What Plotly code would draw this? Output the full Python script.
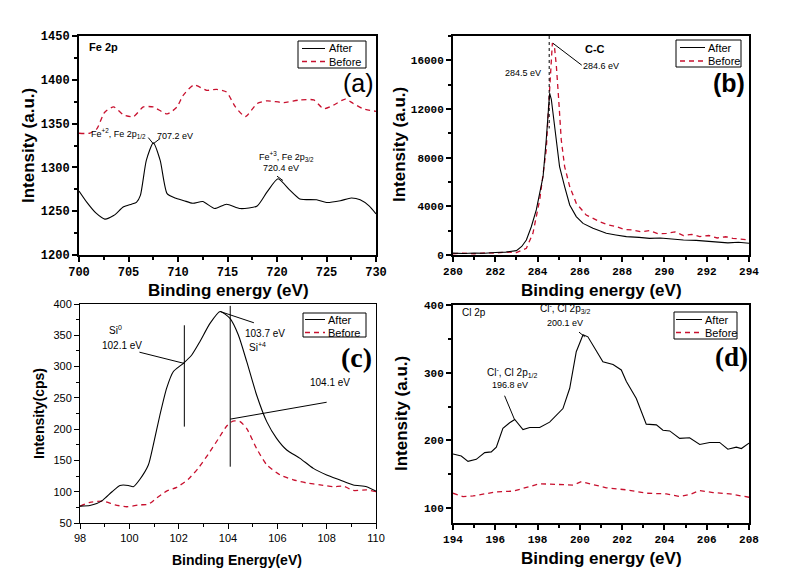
import plotly.graph_objects as go

# ---------------- data ----------------
# (a) Fe 2p
a_after_x = [700.0, 700.8, 701.7, 702.6, 703.5, 704.5, 705.3, 705.8, 706.2, 706.8, 707.5, 708.2, 708.9, 709.7,
             710.6, 711.5, 712.5, 713.7, 714.9, 716.3, 718.0, 719.0, 720.1, 721.3, 722.3, 724.0, 725.0, 726.4,
             727.5, 728.4, 729.3, 730.0]
a_after_y = [1273, 1260, 1248, 1241, 1245, 1255, 1258, 1260, 1268, 1308, 1328, 1308, 1270, 1265,
             1262, 1259, 1261, 1253, 1258, 1253, 1256, 1272, 1287, 1274, 1264, 1263, 1260, 1262,
             1265, 1263, 1256, 1247]
a_before_x = [700.0, 701.1, 701.8, 702.6, 703.5, 704.5, 705.5, 706.5, 707.5, 708.9, 709.9, 710.5, 711.6, 712.9,
              713.9, 714.9, 715.8, 716.8, 718.0, 719.0, 720.7, 722.3, 723.7, 724.7, 725.7, 726.9, 727.7, 728.7, 730.0]
a_before_y = [1339, 1339, 1344, 1363, 1369, 1360, 1358, 1369, 1369, 1361, 1369, 1382, 1394, 1388,
              1389, 1386, 1369, 1358, 1373, 1376, 1374, 1377, 1377, 1367, 1371, 1378, 1373, 1367, 1364]

# (b) C 1s
b_after_x = [280.0, 280.5, 281.0, 281.5, 282.0, 282.5, 283.0, 283.25, 283.47, 283.7, 283.94, 284.1, 284.26, 284.41,
             284.5, 284.57, 284.65, 284.73, 284.89, 285.04, 285.28, 285.4, 285.52, 285.83, 286.15, 286.62, 287.25,
             287.7, 288.2, 288.8, 289.3, 289.8, 290.4, 290.9, 291.5, 292.0, 292.5, 293.0, 293.5, 294.0]
b_after_y = [150, 120, 170, 140, 200, 240, 360, 700, 1235, 2300, 3700, 5000, 6450, 9470,
             11600, 13300, 12800, 11660, 9470, 7270, 5625, 4800, 4115, 3155, 2600, 2195, 1780,
             1650, 1510, 1450, 1370, 1400, 1300, 1235, 1200, 1150, 1100, 1000, 1050, 960]
b_before_x = [280.0, 280.5, 281.0, 281.5, 282.0, 282.5, 283.0, 283.47, 283.78, 284.1, 284.25, 284.41, 284.5, 284.6,
              284.7, 284.8, 284.89, 285.0, 285.12, 285.28, 285.52, 285.83, 286.3, 286.94, 287.3, 287.72, 288.1,
              288.5, 288.9, 289.3, 289.7, 290.1, 290.5, 290.9, 291.3, 291.67, 292.1, 292.5, 292.9, 293.24, 293.6, 294.0]
b_before_y = [100, 160, 90, 180, 150, 250, 190, 550, 1780, 4530, 6500, 8640, 11500, 15000,
              17420, 17100, 15500, 12760, 9470, 7270, 5625, 4250, 3290, 2740, 2500, 2330, 2100,
              2060, 1900, 2000, 1750, 1780, 1900, 1600, 1700, 1510, 1600, 1400, 1500, 1370, 1300, 1235]

# (c) Si 2p
c_after_x = [98.0, 98.4, 98.68, 98.94, 99.3, 99.62, 99.96, 100.16, 100.43, 100.77, 100.97, 101.24, 101.51, 101.78,
             102.19, 102.53, 102.86, 103.27, 103.68, 104.08, 104.42, 104.76, 105.16, 105.57, 105.97, 106.38,
             106.92, 107.46, 108.0, 108.54, 109.08, 109.62, 110.0]
c_after_y = [77, 78, 81, 87, 100, 110, 110, 108, 120, 142.7, 174.6, 222.6, 265.2, 291.8,
             305.2, 318.5, 339.8, 369, 388, 377, 350.5, 307.8, 254.6, 212, 185.3, 166.7,
             153.3, 137.3, 126.7, 118.7, 110.7, 108, 101]
c_before_x = [98.0, 98.4, 98.94, 99.42, 99.89, 100.43, 100.77, 101.11, 101.51, 101.92, 102.39, 102.8, 103.2, 103.6,
              103.95, 104.2, 104.49, 104.76, 105.16, 105.57, 106.11, 106.65, 107.19, 107.73, 108.27, 108.68,
              109.08, 109.62, 110.0]
c_before_y = [77, 83, 85, 79, 76, 79, 80, 90, 101, 107, 120, 138, 160, 184,
              205, 213, 212, 201, 169, 143, 127, 119, 114, 111, 108, 109, 102, 103, 100]

# (d) Cl 2p
d_after_x = [194.0, 194.39, 194.71, 195.1, 195.5, 195.81, 196.05, 196.36, 196.68, 196.92, 197.31, 197.63, 198.1,
             198.57, 199.2, 199.52, 199.83, 200.15, 200.38, 200.78, 201.09, 201.57, 201.96, 202.2, 202.67, 203.14,
             203.62, 203.93, 204.25, 204.72, 205.19, 205.67, 206.14, 206.61, 207.0, 207.4, 207.64, 208.0]
d_after_y = [180, 177, 169, 172, 182, 183, 190, 218, 226, 231, 216, 219, 219,
             227, 247, 277, 331, 356, 353, 331, 316, 312, 304, 287, 262, 224,
             223, 215, 214, 203, 204, 194, 197, 197, 187, 190, 188, 196]
d_before_x = [194.0, 194.47, 194.95, 195.42, 196.05, 196.84, 197.47, 198.1, 198.89, 199.68, 200.07, 200.62, 201.25,
              202.2, 203.14, 204.09, 204.72, 205.19, 205.67, 206.3, 207.09, 208.0]
d_before_y = [122, 117, 118, 121, 124, 125, 130, 136, 135, 134, 139, 135, 130,
              127, 122, 121, 117, 120, 126, 123, 121, 116]

# ---------------- layout helpers ----------------
W, H = 811, 576
RED = "#c8102e"
SANS = "Liberation Sans"
MONO = "Liberation Mono"
SERIF = "Liberation Serif"

boxes = {  # pixel frames of each panel
    "a": (79, 376, 36, 255),
    "b": (453, 749, 36, 255),
    "c": (80, 376, 304, 523),
    "d": (453, 749, 305, 523),
}


def dom(k):
    L, R, T, B = boxes[k]
    return [L / W, R / W], [1 - B / H, 1 - T / H]


def px(x):
    return x / W


def py(y):
    return 1 - y / H


fig = go.Figure()


def add(x, y, ax, after, shape="linear"):
    fig.add_trace(go.Scatter(
        x=x, y=y, xaxis="x" + ax, yaxis="y" + ax, mode="lines", showlegend=False,
        name="After" if after else "Before",
        line=dict(color="black" if after else RED, width=1.1 if after else 1.3,
                  dash="solid" if after else "5px,4px", shape=shape, smoothing=0.6)))


add(a_before_x, a_before_y, "", False, "spline")
add(a_after_x, a_after_y, "", True, "spline")
add(b_before_x, b_before_y, "2", False)
add(b_after_x, b_after_y, "2", True)
add(c_before_x, c_before_y, "3", False, "spline")
add(c_after_x, c_after_y, "3", True, "spline")
add(d_before_x, d_before_y, "4", False)
add(d_after_x, d_after_y, "4", True)


def axis(domain, rng, dtick, mdtick, font, lw, anchor, tick0):
    return dict(domain=domain, range=rng, dtick=dtick, tick0=tick0, tickformat="d", ticks="outside",
                ticklen=5, tickwidth=lw, tickcolor="black", showline=True, linewidth=lw, linecolor="black",
                mirror=True, showgrid=False, zeroline=False, tickfont=font, anchor=anchor, automargin=False,
                minor=dict(ticks="outside", ticklen=3, dtick=mdtick, tick0=tick0, tickcolor="black",
                           tickwidth=max(1, lw - 0.5), showgrid=False))


boldmono = dict(family=MONO, size=12, color="black", weight="bold")
boldmono_s = dict(family=MONO, size=11, color="black", weight="bold")
plain = dict(family=SANS, size=11, color="black")

xa, ya = dom("a")
xb, yb = dom("b")
xc, yc = dom("c")
xd, yd = dom("d")

fig.update_layout(
    template="none",
    width=W, height=H, margin=dict(l=0, r=0, t=0, b=0, pad=0), autosize=False,
    paper_bgcolor="white", plot_bgcolor="white", showlegend=False,
    xaxis=axis(xa, [700, 730], 5, 2.5, boldmono, 2, "y", 700),
    yaxis=axis(ya, [1200, 1450], 50, 25, boldmono, 2, "x", 1200),
    xaxis2=axis(xb, [280, 294], 2, 1, boldmono_s, 2, "y2", 280),
    yaxis2=axis(yb, [0, 18000], 4000, 2000, boldmono_s, 2, "x2", 0),
    xaxis3=axis(xc, [98, 110], 2, 1, plain, 1, "y3", 98),
    yaxis3=axis(yc, [50, 400], 50, 25, plain, 1, "x3", 50),
    xaxis4=axis(xd, [194, 208], 2, 1, boldmono_s, 2, "y4", 194),
    yaxis4=axis(yd, [78, 400], 100, 50, boldmono_s, 2, "x4", 0),
)

ann = []
shapes = []


def text(x, y, s, font, xref="paper", yref="paper", angle=0, xanchor="center", yanchor="middle"):
    ann.append(dict(x=x, y=y, xref=xref, yref=yref, text=s, showarrow=False, font=font, textangle=angle,
                    xanchor=xanchor, yanchor=yanchor))


def seg(x0, y0, x1, y1, ax, dash="solid", width=1):
    shapes.append(dict(type="line", x0=x0, y0=y0, x1=x1, y1=y1, xref="x" + ax, yref="y" + ax,
                       line=dict(color="black", width=width, dash=dash)))


# axis titles
tb = dict(family=SANS, size=17, color="black", weight="bold")
tc = dict(family=SANS, size=14, color="black", weight="bold")
text(px(28), py(145), "Intensity (a.u.)", tb, angle=-90)
text(px(228), py(290), "Binding energy (eV)", tb)
text(px(399), py(145), "Intensity (a.u.)", tb, angle=-90)
text(px(601), py(290), "Binding energy (eV)", tb)
text(px(39), py(414), "Intensity(cps)", tc, angle=-90)
text(px(237), py(560), "Binding Energy(eV)", tc)
text(px(401), py(414), "Intensity (a.u.)", tb, angle=-90)
text(px(601), py(558), "Binding energy (eV)", tb)


# manual legends (pixel positions)
def legend(box, lx0, lx1, tx, y1, y2, fs):
    x0, x1, t0, b0 = box
    shapes.append(dict(type="rect", xref="paper", yref="paper", x0=px(x0), x1=px(x1), y0=py(b0), y1=py(t0),
                       line=dict(color="black", width=1), fillcolor="white", layer="above"))
    shapes.append(dict(type="line", xref="paper", yref="paper", x0=px(lx0), x1=px(lx1), y0=py(y1), y1=py(y1),
                       line=dict(color="black", width=1)))
    shapes.append(dict(type="line", xref="paper", yref="paper", x0=px(lx0), x1=px(lx1), y0=py(y2), y1=py(y2),
                       line=dict(color=RED, width=1.3, dash="5px,4px")))
    f = dict(family=SANS, size=fs, color="black")
    text(px(tx), py(y1), "After", f, xanchor="left")
    text(px(tx), py(y2), "Before", f, xanchor="left")


legend((298, 366, 41, 68), 302, 325, 327, 48.5, 61.5, 11)
legend((676, 741, 40, 67), 680, 705, 706, 47.5, 61, 11)
legend((303, 366, 313, 337), 305, 325, 326, 319.5, 332.5, 11)
legend((674, 737, 312, 339), 676, 702, 703, 319.5, 332.5, 11)

# panel (a) annotations
small = dict(family=SANS, size=9, color="black")
text(700.8, 1437, "Fe 2p", dict(family=SANS, size=11, color="black", weight="bold"), "x", "y", xanchor="left")
text(728.2, 1396, "(a)", dict(family=SANS, size=25, color="black"), "x", "y")
text(704.0, 1339, "Fe<sup>+2</sup>, Fe 2p<sub>1/2</sub>", small, "x", "y")
text(709.7, 1336, "707.2 eV", small, "x", "y")
text(721.0, 1313, "Fe<sup>+3</sup>, Fe 2p<sub>3/2</sub>", small, "x", "y")
text(720.4, 1299, "720.4 eV", small, "x", "y")
seg(707.0, 1334, 707.5, 1327, "")
seg(707.5, 1327, 708.2, 1333, "")
seg(720.0, 1290, 720.6, 1285, "")

# panel (b) annotations
text(286.7, 16950, "C-C", dict(family=SANS, size=11, color="black", weight="bold"), "x2", "y2")
text(287.0, 15500, "284.6 eV", small, "x2", "y2")
text(283.33, 14950, "284.5 eV", small, "x2", "y2")
text(293.06, 14100, "(b)", dict(family=SANS, size=25, color="black", weight="bold"), "x2", "y2")
seg(284.55, 18000, 284.55, 10400, "2", dash="dot", width=1)
seg(284.73, 17400, 286.09, 15600, "2")

# panel (c) annotations
cf = dict(family=SANS, size=10, color="black")
seg(102.23, 366, 102.23, 204, "3")
seg(104.09, 397, 104.09, 140, "3")
seg(100.41, 323, 102.23, 305, "3")
seg(103.68, 388, 105.05, 370, "3")
seg(104.09, 216, 108.0, 243, "3")
text(99.45, 358, "Si<sup>0</sup>", cf, "x3", "y3")
text(99.69, 334, "102.1 eV", cf, "x3", "y3")
text(105.5, 353, "103.7 eV", cf, "x3", "y3")
text(105.2, 332, "Si<sup>+4</sup>", cf, "x3", "y3")
text(108.14, 275, "104.1 eV", cf, "x3", "y3")
text(109.2, 315, "(c)", dict(family=SERIF, size=28, color="black", weight="bold"), "x3", "y3")

# panel (d) annotations
text(195.0, 389.5, "Cl 2p", dict(family=SANS, size=10, color="black"), "x4", "y4")
text(199.3, 395, "Cl<sup>-</sup>, Cl 2p<sub>3/2</sub>", cf, "x4", "y4")
text(199.3, 373, "200.1 eV", small, "x4", "y4")
text(196.8, 300, "Cl<sup>-</sup>, Cl 2p<sub>1/2</sub>", cf, "x4", "y4")
text(196.7, 282, "196.8 eV", small, "x4", "y4")
text(207.15, 323, "(d)", dict(family=SERIF, size=27, color="black", weight="bold"), "x4", "y4")
seg(199.96, 360, 200.23, 353, "4")
seg(196.44, 266, 196.92, 230, "4")

fig.update_layout(annotations=ann, shapes=shapes)
fig.write_html("out.html", config={"displayModeBar": False},
               post_script="document.body.style.margin='0px';document.body.style.overflow='hidden';")
